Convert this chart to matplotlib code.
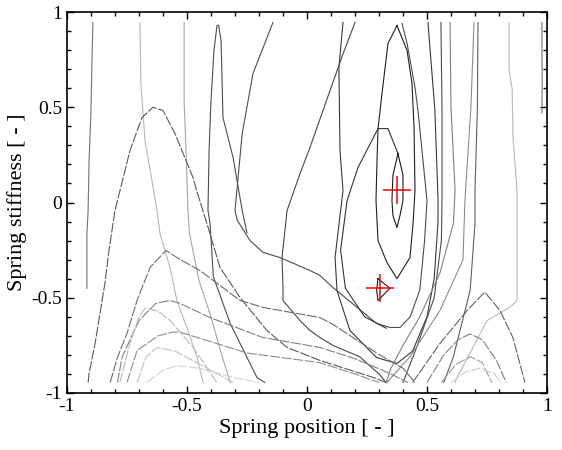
import matplotlib
matplotlib.use("Agg")
import matplotlib.pyplot as plt
from matplotlib.ticker import MultipleLocator

# contour lines: x = spring position, y = spring stiffness
# left, nearly vertical lines
left_x = [
    [-0.892, -0.896, -0.90, -0.908, -0.912, -0.917, -0.917],
    [-0.696, -0.692, -0.675, -0.646, -0.625, -0.6125, -0.571, -0.542, -0.496, -0.458, -0.433],
    [-0.512, -0.512, -0.504, -0.496, -0.49, -0.45, -0.40, -0.36, -0.32],
    [-0.175, -0.208, -0.32, -0.39, -0.404, -0.4125, -0.408, -0.40, -0.3875, -0.375, -0.368,
     -0.358, -0.35, -0.308, -0.27, -0.25],
    [-0.142, -0.225, -0.27, -0.30, -0.29, -0.2375, -0.183, -0.1125, 0.0125, 0.054, 0.108, 0.29,
     0.346, 0.3875, 0.43, 0.47, 0.49, 0.50, 0.4625, 0.45, 0.417, 0.396],
]
left_y = [
    [0.945, 0.745, 0.483, 0.22, -0.042, -0.163, -0.451],
    [0.945, 0.625, 0.325, 0.115, -0.042, -0.163, -0.341, -0.514, -0.672, -0.814, -0.945],
    [0.945, 0.535, 0.273, -0.04, -0.16, -0.41, -0.60, -0.78, -0.945],
    [-0.945, -0.92, -0.635, -0.39, -0.11, -0.042, 0.273, 0.535, 0.80, 0.93, 0.93,
     0.85, 0.446, 0.236, -0.042, -0.16],
    [0.945, 0.677, 0.362, -0.042, -0.094, -0.2, -0.262, -0.289, -0.357, -0.383, -0.446, -0.635,
     -0.656, -0.656, -0.60, -0.46, -0.2, 0.01, 0.483, 0.604, 0.835, 0.94],
]
left_gray = [0.45, 0.72, 0.65, 0.3, 0.3]

# lines around the two minima
center_x = [
    [0.379, 0.40, 0.40, 0.3875, 0.375, 0.358, 0.354, 0.358, 0.379],
    [0.375, 0.3375, 0.3125, 0.296, 0.2917, 0.2875, 0.296, 0.333, 0.375, 0.429, 0.442, 0.45,
     0.446, 0.4375, 0.417, 0.375],
    [0.33, 0.24, 0.16, 0.14, 0.167, 0.2125, 0.296, 0.3375, 0.379],
    [0.296, 0.346, 0.296, 0.29, 0.296],
    [0.15, 0.133, 0.1375, 0.15, 0.117, 0.125, 0.179, 0.29, 0.375, 0.44, 0.50, 0.53, 0.546,
     0.546, 0.533, 0.504],
    [0.20, 0.15, 0.096, 0.0125, -0.029, -0.083, -0.104, -0.10, -0.10, -0.029, 0.0125, 0.054,
     0.108, 0.22, 0.30, 0.33],
]
center_y = [
    [0.257, 0.142, 0.0105, -0.068, -0.131, -0.068, 0.0105, 0.142, 0.257],
    [0.929, 0.835, 0.572, 0.388, 0.22, 0.01, -0.2, -0.315, -0.40, -0.289, -0.11, 0.063,
     0.394, 0.625, 0.798, 0.929],
    [-0.66, -0.6, -0.45, -0.25, 0.01, 0.184, 0.388, 0.388, 0.257],
    [-0.40, -0.45, -0.514, -0.46, -0.40],
    [0.945, 0.709, 0.273, 0.063, -0.289, -0.462, -0.672, -0.814, -0.845, -0.78, -0.6, -0.4,
     -0.1, 0.01, 0.483, 0.945],
    [0.945, 0.78, 0.588, 0.289, 0.152, -0.042, -0.289, -0.446, -0.514, -0.62, -0.672, -0.709,
     -0.75, -0.81, -0.9, -0.945],
]
center_gray = [0.1, 0.12, 0.2, 0.1, 0.22, 0.28]

# right, nearly vertical lines
right_x = [
    [0.558, 0.5625, 0.5625, 0.56, 0.53, 0.46, 0.40],
    [0.596, 0.60, 0.617, 0.61, 0.554, 0.47, 0.40, 0.35, 0.33],
    [0.696, 0.683, 0.658, 0.65, 0.554, 0.429, 0.333],
    [0.7125, 0.71, 0.70, 0.70, 0.68, 0.61, 0.57],
    [0.842, 0.842, 0.855, 0.858, 0.875, 0.875, 0.846, 0.75, 0.625, 0.617],
    [0.979, 0.979, 0.98, 0.979],
]
right_y = [
    [0.945, 0.5, 0.01, -0.2, -0.5, -0.75, -0.945],
    [0.945, 0.5, 0.063, -0.11, -0.37, -0.60, -0.75, -0.87, -0.945],
    [0.945, 0.5, 0.01, -0.30, -0.567, -0.81, -0.945],
    [0.945, 0.5, 0.063, -0.11, -0.46, -0.81, -0.945],
    [0.945, 0.70, 0.595, 0.35, 0.063, -0.514, -0.55, -0.62, -0.92, -0.945],
    [0.945, 0.80, 0.65, 0.47],
]
right_gray = [0.3, 0.5, 0.55, 0.38, 0.72, 0.45]

# arches along the lower edge
arch_x = [
    [-0.912, -0.908, -0.883, -0.842, -0.825, -0.80, -0.7375, -0.6875, -0.642, -0.60, -0.55,
     -0.475, -0.46, -0.417, -0.3625, -0.279, -0.167, -0.083, 0.054, 0.18, 0.28, 0.33],
    [-0.82, -0.79, -0.75, -0.708, -0.654, -0.5875, -0.529, -0.446, -0.279, -0.183, 0.054, 0.108,
     0.29, 0.40, 0.45],
    [-0.79, -0.77, -0.70, -0.63, -0.571, -0.529, -0.404, -0.183, 0.054, 0.2, 0.35, 0.42],
    [-0.75, -0.708, -0.62, -0.558, -0.53, -0.25, 0.05, 0.2, 0.3],
    [-0.78, -0.74, -0.70, -0.675, -0.62, -0.57, -0.475, -0.375],
    [-0.708, -0.67, -0.625, -0.55, -0.475, -0.308],
    [-0.667, -0.60, -0.54, -0.45, -0.30, -0.2],
    [0.44, 0.554, 0.667, 0.733, 0.742, 0.804, 0.858, 0.908],
    [0.50, 0.57, 0.63, 0.68, 0.73, 0.79, 0.83],
    [0.56, 0.62, 0.68, 0.73, 0.77],
    [0.60, 0.66, 0.72, 0.78, 0.81],
]
arch_y = [
    [-0.945, -0.898, -0.74, -0.425, -0.252, -0.042, 0.273, 0.446, 0.50, 0.483, 0.362,
     0.131, 0.063, -0.11, -0.341, -0.499, -0.672, -0.761, -0.829, -0.88, -0.92, -0.945],
    [-0.945, -0.814, -0.687, -0.514, -0.341, -0.252, -0.299, -0.357, -0.514, -0.551, -0.604, -0.64,
     -0.79, -0.87, -0.945],
    [-0.945, -0.81, -0.62, -0.53, -0.514, -0.53, -0.604, -0.709, -0.761, -0.82, -0.9, -0.945],
    [-0.945, -0.777, -0.70, -0.68, -0.68, -0.79, -0.84, -0.9, -0.945],
    [-0.945, -0.75, -0.6, -0.556, -0.57, -0.62, -0.76, -0.945],
    [-0.945, -0.81, -0.761, -0.78, -0.83, -0.945],
    [-0.945, -0.88, -0.856, -0.87, -0.92, -0.945],
    [-0.945, -0.74, -0.567, -0.48, -0.472, -0.567, -0.709, -0.945],
    [-0.945, -0.80, -0.72, -0.69, -0.72, -0.83, -0.945],
    [-0.945, -0.85, -0.81, -0.84, -0.945],
    [-0.945, -0.89, -0.87, -0.9, -0.945],
]
arch_gray = [0.35, 0.42, 0.5, 0.55, 0.72, 0.75, 0.82, 0.38, 0.5, 0.62, 0.8]

# optima (red crosses)
opt_x = [0.375, 0.304]
opt_y = [0.063, -0.451]

tick_vals = [-1, -0.5, 0, 0.5, 1]
tick_labels = ["-1", "-0.5", "0", "0.5", "1"]

plt.rcParams['font.family'] = ['Liberation Serif', 'DejaVu Serif']

fig = plt.figure(figsize=(5.62, 4.5), dpi=100)
ax = fig.add_axes([0.1192, 0.1267, 0.8541, 0.8466])

for xs, ys, g in zip(left_x + center_x + right_x, left_y + center_y + right_y,
                     left_gray + center_gray + right_gray):
    ax.plot(xs, ys, color=str(g), lw=0.8)
# the lower arches look broken into long dashes in the original
for xs, ys, g in zip(arch_x, arch_y, arch_gray):
    ax.plot(xs, ys, color=str(g), lw=0.8, dashes=(9, 1.5))

ax.plot(opt_x, opt_y, '+', color='red', ms=20, mew=1.1, ls='none')

ax.set_xlim(-1, 1)
ax.set_ylim(-1, 1)
ax.set_xticks(tick_vals, labels=tick_labels)
ax.set_yticks(tick_vals, labels=tick_labels)
ax.xaxis.set_minor_locator(MultipleLocator(0.1))
ax.yaxis.set_minor_locator(MultipleLocator(0.1))
ax.tick_params(which='both', direction='in', top=True, right=True, labelsize=14, width=1)
ax.tick_params(which='major', length=5)
ax.tick_params(which='minor', length=3)
for s in ax.spines.values():
    s.set_linewidth(1.2)

ax.set_xlabel("Spring position [ - ]", fontsize=16, labelpad=3)
ax.set_ylabel("Spring stiffness [ - ]", fontsize=16, labelpad=3)

fig.savefig("out.png", dpi=100)
